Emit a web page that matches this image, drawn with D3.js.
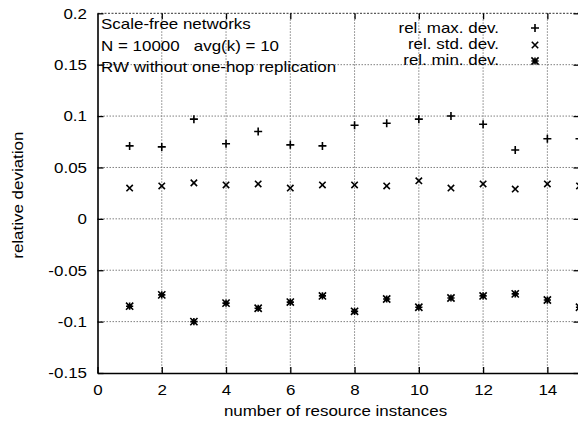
<!DOCTYPE html>
<html><head><meta charset="utf-8">
<script src="https://cdn.jsdelivr.net/npm/d3@7"></script>
<style>
body{margin:0;background:#fff;}
text{font-family:"Liberation Sans",Arial,Helvetica,sans-serif;font-size:15px;fill:#000;white-space:pre;}
</style></head>
<body><svg id="c" width="578" height="430"></svg>
<script>
const xs = [1,2,3,4,5,6,7,8,9,10,11,12,13,14,15];
const maxDev = [0.071,0.070,0.097,0.073,0.085,0.072,0.071,0.091,0.093,0.097,0.100,0.092,0.067,0.078,0.078];
const stdDev = [0.030,0.032,0.035,0.033,0.034,0.030,0.033,0.033,0.032,0.037,0.030,0.034,0.029,0.034,0.032];
const minDev = [-0.085,-0.074,-0.100,-0.082,-0.087,-0.081,-0.075,-0.090,-0.078,-0.086,-0.077,-0.075,-0.073,-0.079,-0.086];
const xTicks = [0,2,4,6,8,10,12,14];
const yTicks = [-0.15,-0.1,-0.05,0,0.05,0.1,0.15,0.2];
const yTickLabels = ["-0.15","-0.1","-0.05","0","0.05","0.1","0.15","0.2"];
const infoLines = ["Scale-free networks","N = 10000   avg(k) = 10","RW without one-hop replication"];
const legendLabels = ["rel. max. dev.","rel. std. dev.","rel. min. dev."];
const xTitle = "number of resource instances";
const yTitle = "relative deviation";

const SX = 1.13;
const svg = d3.select("#c");
const L = 97.5, R = 579.5, T = 13.3, B = 373;
const x = d3.scaleLinear().domain([0,15]).range([L,R]);
const y = d3.scaleLinear().domain([-0.15,0.2]).range([B,T]);

// grid
const grid = svg.append("g").attr("stroke","#808080").attr("stroke-width",1).attr("stroke-dasharray","1.5,1.5");
grid.selectAll(".gx").data(xTicks.filter(d=>d>0)).enter().append("line")
  .attr("x1",d=>x(d)).attr("x2",d=>x(d)).attr("y1",T).attr("y2",B);
grid.selectAll(".gy").data(yTicks.filter(d=>d>-0.15 && d<0.2)).enter().append("line")
  .attr("x1",L).attr("x2",R).attr("y1",d=>y(d)).attr("y2",d=>y(d));
// top border dotted
svg.append("line").attr("x1",L).attr("x2",R).attr("y1",T).attr("y2",T)
  .attr("stroke","#333").attr("stroke-width",1).attr("stroke-dasharray","2,1.5");

function styleAxis(g){
  g.selectAll("line").attr("stroke","#000").attr("stroke-width",1.3);
  g.select(".domain").attr("stroke","#000").attr("stroke-width",1.6);
  g.selectAll("text").attr("font-family",null).attr("font-size",null).attr("fill","#000")
   .attr("transform",`scale(${SX},1)`);
}
// bottom axis
const gb = svg.append("g").attr("transform",`translate(0,${B})`)
  .call(d3.axisBottom(x).tickValues(xTicks).tickSizeInner(-6).tickSizeOuter(0).tickPadding(11).tickFormat(d3.format("d")));
styleAxis(gb);
// left axis
const gl = svg.append("g").attr("transform",`translate(${L},0)`)
  .call(d3.axisLeft(y).tickValues(yTicks).tickSizeInner(-6).tickSizeOuter(0).tickPadding(9.3).tickFormat((d,i)=>yTickLabels[i]));
styleAxis(gl);
// top mirror ticks
const gt = svg.append("g").attr("transform",`translate(0,${T})`)
  .call(d3.axisTop(x).tickValues(xTicks.filter(d=>d>0)).tickSizeInner(-6).tickSizeOuter(0).tickFormat(""));
gt.select(".domain").remove(); gt.selectAll("line").attr("stroke","#000").attr("stroke-width",1.3);
// right mirror ticks
const gr = svg.append("g").attr("transform",`translate(${R},0)`)
  .call(d3.axisRight(y).tickValues(yTicks).tickSizeInner(-6).tickSizeOuter(0).tickFormat(""));
gr.selectAll("line").attr("stroke","#000").attr("stroke-width",1.3);
gr.select(".domain").attr("stroke","#000").attr("stroke-width",1.6);

// markers
function plus(g,cx,cy,s){ g.append("path").attr("d",`M${cx-s},${cy}H${cx+s}M${cx},${cy-s}V${cy+s}`); }
function cross(g,cx,cy,s){ g.append("path").attr("d",`M${cx-s},${cy-s}L${cx+s},${cy+s}M${cx-s},${cy+s}L${cx+s},${cy-s}`); }
function star(g,cx,cy,s){ plus(g,cx,cy,s); cross(g,cx,cy,s); g.append("rect").attr("x",cx-s*0.6).attr("y",cy-s*0.6).attr("width",s*1.2).attr("height",s*1.2).attr("fill","#000").attr("stroke","none"); }

const pts = svg.append("g").attr("stroke","#000").attr("stroke-width",1.6).attr("fill","none");
xs.forEach((d,i)=>{
  plus(pts,x(d),y(maxDev[i]),4);
  cross(pts,x(d),y(stdDev[i]),3.2);
  star(pts,x(d),y(minDev[i]),3.6);
});

// text helper
function txt(s,tx,ty,anchor,extra){
  return svg.append("text").attr("transform",`translate(${tx},${ty}) ${extra||""} scale(${SX},1)`)
    .attr("text-anchor",anchor).text(s);
}
const infoY = [29.3,50.5,71.5];
infoLines.forEach((s,i)=>txt(s,101,infoY[i],"start"));

const legY = [33,49,65];
legendLabels.forEach((s,i)=>txt(s,499,legY[i],"end"));
const lg = svg.append("g").attr("stroke","#000").attr("stroke-width",1.6).attr("fill","none");
plus(lg,535,legY[0]-5,4);
cross(lg,535,legY[1]-4,3.2);
star(lg,535,legY[2]-4,3.6);

txt(xTitle,(L+R)/2 - 3,416,"middle");
svg.append("text").attr("transform",`translate(23,${(T+B)/2+2}) rotate(-90) scale(${SX},1)`)
  .attr("text-anchor","middle").text(yTitle);
</script></body></html>
